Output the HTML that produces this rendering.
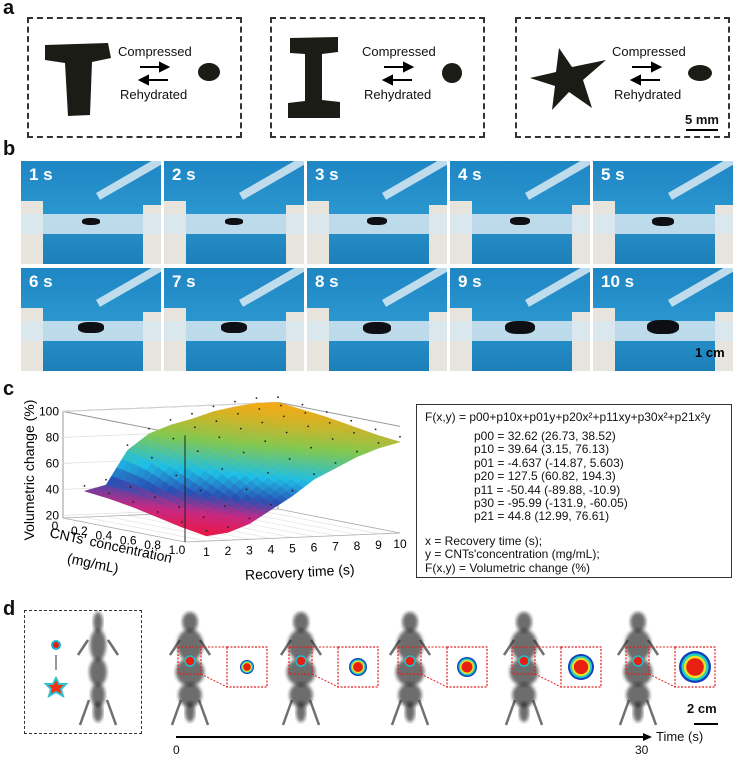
<!DOCTYPE html>
<html><head><meta charset="utf-8"><style>
body{margin:0;background:#fff;width:740px;height:760px;overflow:hidden;position:relative;font-family:"Liberation Sans",Arial,sans-serif;color:#111}
.abs{position:absolute}
.lbl{position:absolute;font-weight:bold;font-size:20px}
.dbox{position:absolute;border:2px dashed #333;box-sizing:border-box}
.txt{position:absolute;font-size:13px;white-space:nowrap}
.tile{position:absolute;width:140px;height:103px;overflow:hidden;background:linear-gradient(#1f86c4,#2a96cf 50%,#1d7fb8)}
.tile .t{position:absolute;left:8px;top:4px;color:#fff;font-weight:bold;font-size:17px}
.eq{position:absolute;left:416px;top:404px;width:316px;height:174px;border:1.5px solid #333;box-sizing:border-box;font-size:12px;line-height:13.4px}
</style></head><body>
<div class="lbl" style="left:3px;top:-3px">a</div>
<div class="dbox" style="left:27px;top:17px;width:215px;height:121px"></div>
<div class="dbox" style="left:270px;top:17px;width:215px;height:121px"></div>
<div class="dbox" style="left:515px;top:17px;width:215px;height:121px"></div>
<svg class="abs" style="left:0;top:0" width="740" height="140">
<g fill="#1c1c16">
<path d="M45 45 L108 43 L111 58 L92 62 L90 115 L68 116 L65 63 L45 60 Z"/>
<ellipse cx="209" cy="72" rx="11" ry="9"/>
<path d="M290 38 L338 37 L338 52 L322 54 L322 100 L340 102 L340 118 L288 118 L288 103 L305 101 L305 54 L290 53 Z"/>
<ellipse cx="452" cy="73" rx="10" ry="10"/>
<path d="M559 48 L572 67 L606 60 L583 80 L592 108 L569 92 L552 110 L555 86 L530 78 L556 72 Z"/>
<ellipse cx="700" cy="73" rx="12" ry="8"/>
</g>
<g stroke="#000" stroke-width="2" fill="#000">
<line x1="140" y1="67" x2="163" y2="67"/><path d="M168 67 L160 63 L160 71Z"/>
<line x1="145" y1="80" x2="168" y2="80"/><path d="M140 80 L148 76 L148 84Z"/>
<line x1="384" y1="67" x2="407" y2="67"/><path d="M412 67 L404 63 L404 71Z"/>
<line x1="389" y1="80" x2="412" y2="80"/><path d="M384 80 L392 76 L392 84Z"/>
<line x1="632" y1="67" x2="655" y2="67"/><path d="M660 67 L652 63 L652 71Z"/>
<line x1="637" y1="80" x2="660" y2="80"/><path d="M632 80 L640 76 L640 84Z"/>
<line x1="686" y1="130" x2="718" y2="130"/>
</g></svg>
<div class="txt" style="left:118px;top:44px">Compressed</div>
<div class="txt" style="left:120px;top:87px">Rehydrated</div>
<div class="txt" style="left:362px;top:44px">Compressed</div>
<div class="txt" style="left:364px;top:87px">Rehydrated</div>
<div class="txt" style="left:612px;top:44px">Compressed</div>
<div class="txt" style="left:614px;top:87px">Rehydrated</div>
<div class="txt" style="left:685px;top:112px;font-weight:bold">5 mm</div>

<div class="lbl" style="left:3px;top:138px">b</div>
<div id="tiles"></div>
<div class="txt" style="left:695px;top:345px;font-weight:bold;color:#000">1 cm</div>

<div class="lbl" style="left:3px;top:378px">c</div>
<svg id="surf" class="abs" style="left:0;top:380px" width="416" height="222"></svg>
<div class="eq">
<div style="position:absolute;left:8px;top:6px">F(x,y) = p00+p10x+p01y+p20x²+p11xy+p30x²+p21x²y</div>
<div style="position:absolute;left:57px;top:25px">p00 = 32.62 (26.73, 38.52)<br>p10 = 39.64 (3.15, 76.13)<br>p01 = -4.637 (-14.87, 5.603)<br>p20 = 127.5 (60.82, 194.3)<br>p11 = -50.44 (-89.88, -10.9)<br>p30 = -95.99 (-131.9, -60.05)<br>p21 = 44.8 (12.99, 76.61)</div>
<div style="position:absolute;left:8px;top:130px">x = Recovery time (s);<br>y = CNTs'concentration (mg/mL);<br>F(x,y) = Volumetric change (%)</div>
</div>

<div class="lbl" style="left:3px;top:598px">d</div>
<div class="dbox" style="left:24px;top:610px;width:118px;height:124px;border-width:1.5px"></div>
<svg id="mice" class="abs" style="left:0;top:600px" width="740" height="160"><defs><filter id="bl"><feGaussianBlur stdDeviation="1.5"/></filter></defs></svg>
<div class="txt" style="left:656px;top:729px;font-size:13px">Time (s)</div>
<div class="txt" style="left:173px;top:743px;font-size:12px">0</div>
<div class="txt" style="left:635px;top:743px;font-size:12px">30</div>
<div class="txt" style="left:687px;top:701px;font-weight:bold">2 cm</div>

<script>
const tileLabels=["1 s","2 s","3 s","4 s","5 s","6 s","7 s","8 s","9 s","10 s"];
const blobW=[18,18,20,20,22,26,26,28,30,32];
const tc=document.getElementById('tiles');
tileLabels.forEach((l,i)=>{
 const d=document.createElement('div');d.className='tile';
 
 
 d.style.left=(21+(i%5)*143)+'px';d.style.top=(i<5?161:268)+'px';
 const w=blobW[i];
 d.innerHTML='<div style="position:absolute;left:0;top:40px;width:22px;height:63px;background:#e6e4dc"></div>'+
 '<div style="position:absolute;right:0;top:44px;width:18px;height:59px;background:#e6e4dc"></div>'+
 '<div style="position:absolute;left:0;top:53px;width:140px;height:20px;background:rgba(215,232,240,0.85)"></div>'+
 '<div style="position:absolute;left:'+(70-w/2)+'px;top:'+(57-(w-18)/3)+'px;width:'+w+'px;height:'+(7+(w-18)/2)+'px;background:#0d0f14;border-radius:40%"></div>'+
 '<div style="position:absolute;left:75px;width:80px;height:8px;background:rgba(230,240,245,0.8);transform:rotate(-30deg);transform-origin:0 0;top:32px"></div>'+
 '<div class="t">'+l+'</div>';
 tc.appendChild(d);
});

// panel c surface data
const times=[1,2,3,4,5,6,7,8,9,10];
const concs=[0,0.2,0.4,0.6,0.8,1.0];
const v_c00=[38,42,68,80,86,90,95,98,100,100];
const v_c02=[36,40,62,76,84,88,93,96,98,98];
const v_c04=[33,36,52,70,80,86,90,94,96,96];
const v_c06=[29,32,44,60,72,80,86,90,92,93];
const v_c08=[25,28,36,48,60,70,78,84,88,90];
const v_c10=[22,24,30,40,50,62,70,78,84,88];
const rows=[v_c00,v_c02,v_c04,v_c06,v_c08,v_c10];
const zTicks=[20,40,60,80,100];
const tTicks=[1,2,3,4,5,6,7,8,9,10];
const cTicks=["0","0.2","0.4","0.6","0.8","1.0"];
const svg=document.getElementById('surf');const NS='http://www.w3.org/2000/svg';
function P(t,c,z){return [63+t*21.5+c*122, 138 - t*0.9 + c*24 - (z-18)*1.3];}
function mk(tag,at,name){const e=document.createElementNS(NS,tag);for(const k in at)e.setAttribute(k,at[k]);
 
 
 svg.appendChild(e);return e;}
function col(z){const s=[[20,[240,20,60]],[33,[200,40,130]],[45,[40,80,180]],[60,[30,190,230]],[80,[130,200,80]],[100,[245,170,20]]];
 for(let i=0;i<s.length-1;i++){if(z<=s[i+1][0]){const f=Math.max(0,(z-s[i][0])/(s[i+1][0]-s[i][0]));const a=s[i][1],b=s[i+1][1];return 'rgb('+a.map((v,k)=>Math.round(v+(b[k]-v)*f)).join(',')+')';}}return 'rgb(245,170,20)';}
const zt=100,zb=18;
[[0,0],[10,0]].forEach(([t,c])=>{const a=P(t,c,zb),b=P(t,c,zt);mk('line',{x1:a[0],y1:a[1],x2:b[0],y2:b[1],stroke:'#999','stroke-width':1},'box-edge');});
[[0,0,10,0],[10,0,10,1],[0,0,0,1]].forEach(([t1,c1,t2,c2])=>{const a=P(t1,c1,zt),b=P(t2,c2,zt);mk('line',{x1:a[0],y1:a[1],x2:b[0],y2:b[1],stroke:'#999','stroke-width':1},'box-top');});
zTicks.forEach(z=>{const a=P(0,0,z),b=P(10,0,z);mk('line',{x1:a[0],y1:a[1],x2:b[0],y2:b[1],stroke:'#ddd','stroke-width':0.7},'grid-z');
 const tx=mk('text',{x:a[0]-4,y:a[1]+4,'text-anchor':'end','font-size':12,'font-family':'Liberation Sans'},'z-tick');tx.textContent=z;});
tTicks.forEach(t=>{const a=P(t,0,zb),b=P(t,1,zb);mk('line',{x1:a[0],y1:a[1],x2:b[0],y2:b[1],stroke:'#e4e4e4','stroke-width':0.7},'grid-t');});
const f=[P(0,0,zb),P(10,0,zb),P(10,1,zb),P(0,1,zb)];
mk('polygon',{points:f.map(p=>p.join(',')).join(' '),fill:'none',stroke:'#aaa','stroke-width':0.8},'floor');
const S=4;
function val(ci,ti,u,v){return rows[ci][ti]*(1-u)*(1-v)+rows[ci][ti+1]*u*(1-v)+rows[ci+1][ti]*(1-u)*v+rows[ci+1][ti+1]*u*v;}
for(let ci=0;ci<concs.length-1;ci++){for(let sv=0;sv<S;sv++){for(let ti=times.length-2;ti>=0;ti--){for(let su=S-1;su>=0;su--){
 const corners=[[su,sv],[su+1,sv],[su+1,sv+1],[su,sv+1]].map(([a,b])=>{const u=a/S,v=b/S;
  const t=times[ti]+(times[ti+1]-times[ti])*u,c=concs[ci]+(concs[ci+1]-concs[ci])*v;return [P(t,c,val(ci,ti,u,v)),val(ci,ti,u,v)];});
 const zm=corners.reduce((s,x)=>s+x[1],0)/4;
 mk('polygon',{points:corners.map(x=>x[0].join(',')).join(' '),fill:col(zm),stroke:col(zm),'stroke-width':0.5},'surface-cell');
}}}}
rows.forEach((r,ci)=>r.forEach((z,ti)=>{const p=P(times[ti],concs[ci],z+4);mk('circle',{cx:p[0],cy:p[1],r:0.9,fill:'#222'},'data-point');}));
{const a=P(0,1,zb),b=P(0,1,zt);mk('line',{x1:a[0],y1:a[1],x2:b[0],y2:b[1],stroke:'#222','stroke-width':1},'front-edge');}
tTicks.forEach(t=>{const a=P(t,1,zb);const tx=mk('text',{x:a[0],y:a[1]+15,'text-anchor':'middle','font-size':12,'font-family':'Liberation Sans'},'t-tick');tx.textContent=t;});
cTicks.forEach((c,i)=>{const a=P(0,concs[i],zb);const tx=mk('text',{x:a[0]-8,y:a[1]+12,'text-anchor':'middle','font-size':12,'font-family':'Liberation Sans'},'c-tick');tx.textContent=c;});
{const tx=mk('text',{x:0,y:0,'text-anchor':'middle','font-size':14,'font-family':'Liberation Sans',transform:'translate(300,197) rotate(-3)'},'x-axis-title');tx.textContent='Recovery time (s)';}
{const tx=mk('text',{x:0,y:0,'text-anchor':'middle','font-size':14,'font-family':'Liberation Sans',transform:'translate(110,170) rotate(12)'},'y-axis-title');tx.textContent="CNTs' concentration";}
{const tx=mk('text',{x:0,y:0,'text-anchor':'middle','font-size':14,'font-family':'Liberation Sans',transform:'translate(92,188) rotate(12)'},'y-axis-unit');tx.textContent='(mg/mL)';}
{const tx=mk('text',{x:0,y:0,'text-anchor':'middle','font-size':14,'font-family':'Liberation Sans',transform:'translate(34,90) rotate(-90)'},'z-axis-title');tx.textContent='Volumetric change (%)';}

const ms=document.getElementById('mice');
function m2(tag,at,name){const e=document.createElementNS(NS,tag);for(const k in at)e.setAttribute(k,at[k]);
 
 
 ms.appendChild(e);return e;}
const mouseX=[190,301,410,524,638];
const spotSize=[7,9,10,13,16];
m2('circle',{cx:56,cy:45,r:4,fill:'#e02010',stroke:'#20b0d0','stroke-width':2},'legend-dot');
m2('line',{x1:56,y1:55,x2:56,y2:70,stroke:'#333','stroke-width':1},'legend-arrow');
m2('path',{d:'M56 78 L59 84 L66 84 L61 89 L63 96 L56 92 L49 96 L51 89 L46 84 L53 84Z',fill:'#f03010',stroke:'#30c0d0','stroke-width':2},'legend-star');
function mouse(x,name,w){const g=[[x,22,6*w,10],[x,45,10*w,16],[x,72,11*w,14],[x,95,9*w,12],[x,112,5,10]];
 g.forEach(([cx,cy,rx,ry])=>m2('ellipse',{cx,cy,rx,ry,fill:'#111',opacity:0.6,filter:'url(#bl)'},name));
 m2('path',{d:`M${x-9} 100 L${x-18} 125 M${x+9} 100 L${x+18} 125 M${x-10} 40 L${x-20} 55 M${x+10} 40 L${x+20} 55`,stroke:'#333','stroke-width':2.5,fill:'none',opacity:0.7},name+'-limbs');}
mouse(98,'reference-mouse',0.8);
mouseX.forEach((x,i)=>{mouse(x,'mouse-'+i,1.3);
 m2('rect',{x:x-12,y:47,width:23,height:27,fill:'none',stroke:'#e02020','stroke-width':1.2,'stroke-dasharray':'2,1.5'},'roi-box');
 m2('rect',{x:x+37,y:47,width:40,height:40,fill:'#fff',stroke:'#e02020','stroke-width':1.2,'stroke-dasharray':'2,1.5'},'inset-box');
 m2('line',{x1:x+11,y1:47,x2:x+37,y2:47,stroke:'#e02020','stroke-dasharray':'2,1.5'},'inset-link');
 m2('line',{x1:x+11,y1:74,x2:x+37,y2:87,stroke:'#e02020','stroke-dasharray':'2,1.5'},'inset-link');
 const r=spotSize[i];
 m2('circle',{cx:x+57,cy:67,r:r,fill:'#1040c0'},'fluor-spot');
 m2('circle',{cx:x+57,cy:67,r:r*0.85,fill:'#20d0c0'},'fluor-spot');
 m2('circle',{cx:x+57,cy:67,r:r*0.7,fill:'#f0e020'},'fluor-spot');
 m2('circle',{cx:x+57,cy:67,r:r*0.55,fill:'#e82010'},'fluor-spot');
 m2('circle',{cx:x,cy:61,r:5,fill:'#e82010',stroke:'#20c0d0','stroke-width':1.5},'roi-spot');
});
m2('line',{x1:176,y1:137,x2:645,y2:137,stroke:'#000','stroke-width':2},'time-axis');
m2('path',{d:'M652 137 L643 133 L643 141Z',fill:'#000'},'time-arrowhead');
m2('line',{x1:694,y1:124,x2:718,y2:124,stroke:'#000','stroke-width':2},'scale-bar-2cm');
</script>
</body></html>
